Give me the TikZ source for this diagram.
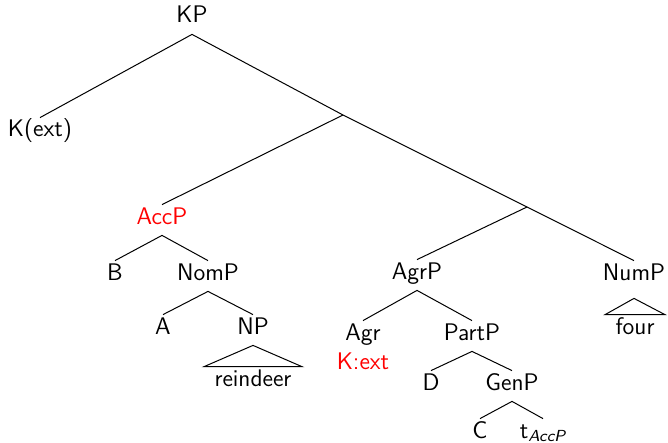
\documentclass[tikz,border=0pt]{standalone}
\usepackage{fontspec}
\usepackage{xcolor}
\usepackage{tikz}
\usetikzlibrary{positioning}
\colorlet{rosso}{red}
\tikzset{%
  etichetta/.style={%
    inner xsep=2.5pt, inner ysep=2.5pt,
    text height=0.7em, text depth=0.3em,
    font=\sffamily\fontsize{12}{14}\selectfont
  },
  foglia/.style={etichetta, inner xsep=5pt},
  ramo/.style={line width=0.5pt}
}
% triangolo sopra una foglia
\newcommand{\tetto}[3][0pt]{%
\draw[ramo] ([yshift=-#1]#2.south) -- (#3.north west) -- (#3.north east) -- cycle;
}

\begin{document}
\begin{tikzpicture}[x=0.5pt,y=-0.5pt]
\useasboundingbox (0,0) rectangle (668,443);

\node[etichetta] (kp) at (192,19) {KP};
\node[etichetta] (kext) at (40,133) {K(ext)};
\coordinate (j1) at (343,115);
\node[etichetta,text=rosso] (accp) at (162,220) {AccP};
\coordinate (j2) at (527,207);
\node[etichetta] (b) at (115,276) {B};
\node[etichetta] (nomp) at (208,276) {NomP};
\node[etichetta] (a) at (163,330) {A};
\node[etichetta] (np) at (253,330) {NP};
\node[foglia] (reindeer) at (253,382) {reindeer};
\node[etichetta] (agrp) at (417,275) {AgrP};
\node[etichetta] (nump) at (634,276) {NumP};
\node[foglia] (four) at (635,330) {four};
\node[etichetta] (agr) at (363,336) {Agr};
\node[etichetta,text=rosso] (kcext) at (363,365) {K:ext};
\node[etichetta] (partp) at (472,336) {PartP};
\node[etichetta] (d) at (431,386) {D};
\node[etichetta] (genp) at (512,386) {GenP};
\node[etichetta] (c) at (480,434) {C};
\node[etichetta] (tacc) at (543,434) {t\textsubscript{\itshape AccP}};

\draw[ramo] (kext.north) -- (kp.south) -- (j1) -- (j2);
\draw[ramo] (j1) -- (accp.north);
\draw[ramo] (b.north) -- (accp.south) -- (nomp.north);
\draw[ramo] (a.north) -- (nomp.south) -- (np.north);
\draw[ramo] (agrp.north) -- (j2) -- (nump.north);
\draw[ramo] (agr.north) -- (agrp.south) -- (partp.north);
\draw[ramo] (d.north) -- (partp.south) -- (genp.north);
\draw[ramo] (c.north) -- (genp.south) -- (tacc.north);

\tetto{np}{reindeer}
\tetto[3.5pt]{nump}{four}
\end{tikzpicture}
\end{document}
